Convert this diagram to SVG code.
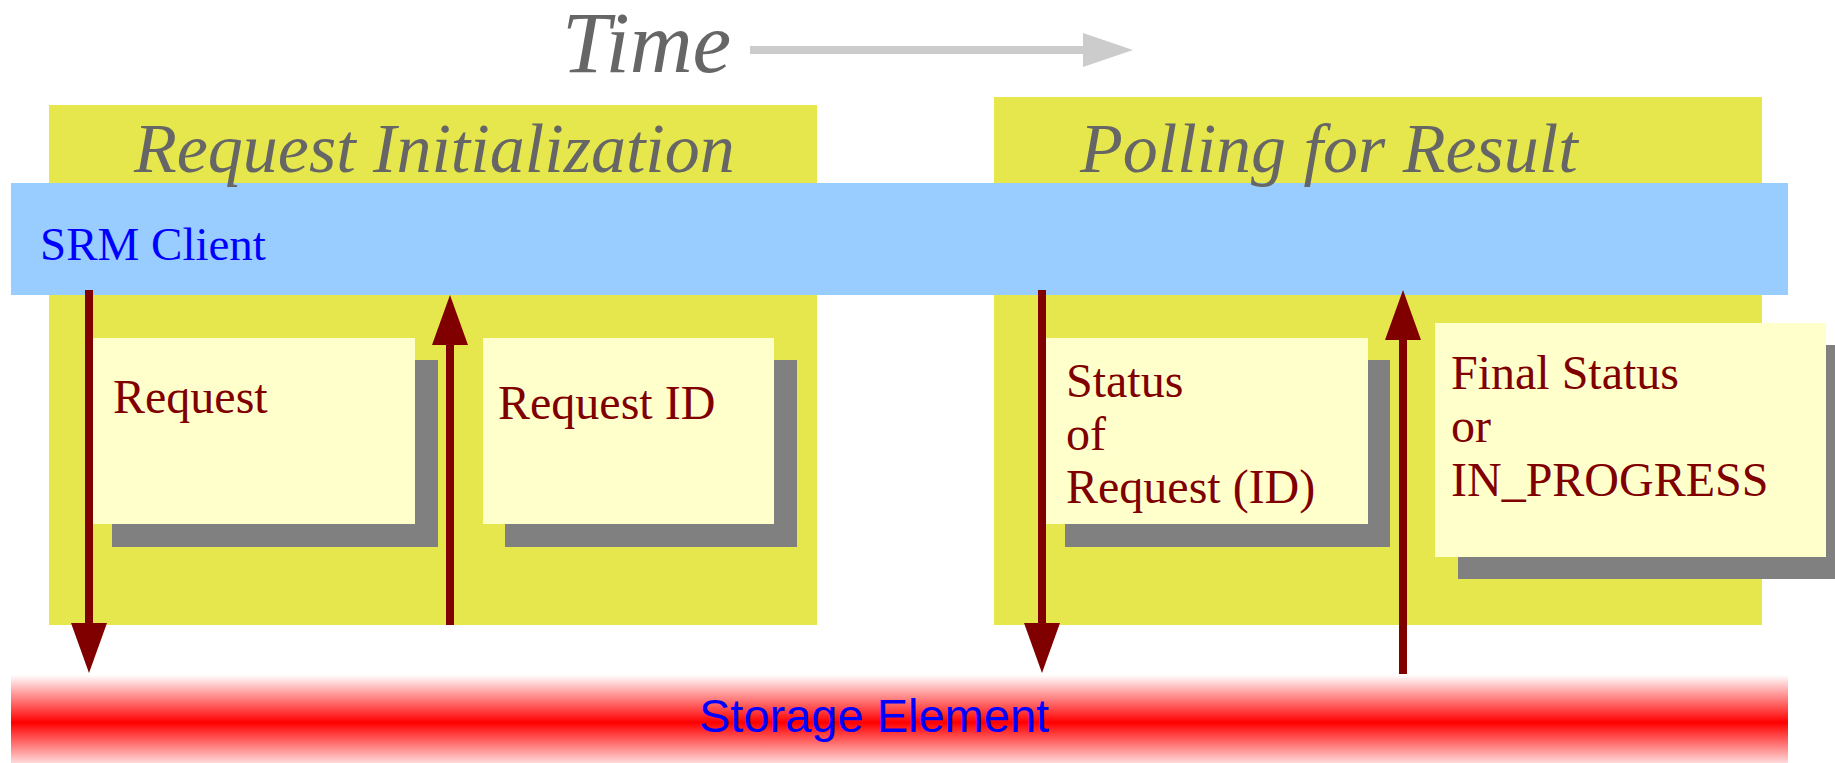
<svg xmlns="http://www.w3.org/2000/svg" width="1835" height="763" viewBox="0 0 1835 763">
  <style>
    .phase { fill: #e6e64d; }
    .phase-title { font-family: "Liberation Serif", serif; font-style: italic; font-size: 70px; fill: #666666; }
    .note { fill: #ffffcc; }
    .shadow { fill: #808080; }
    .note-text { font-family: "Liberation Serif", serif; font-size: 48px; fill: #800000; }
    .msg { stroke: #800000; stroke-width: 8; fill: none; marker-end: url(#head); }
    .lane-label { fill: #0000ff; font-size: 47px; }
  </style>
  <defs>
    <marker id="head" markerUnits="userSpaceOnUse" viewBox="0 0 50 36" markerWidth="50" markerHeight="36" refX="0" refY="18" orient="auto">
      <path d="M0,0 L50,18 L0,36 Z" fill="#800000"/>
    </marker>
    <marker id="timeHead" markerUnits="userSpaceOnUse" viewBox="0 0 50 34" markerWidth="50" markerHeight="34" refX="0" refY="17" orient="auto">
      <path d="M0,0 L50,17 L0,34 Z" fill="#cccccc"/>
    </marker>
    <linearGradient id="storageFade" x1="0" y1="0" x2="0" y2="1">
      <stop offset="0" stop-color="#ffffff"/>
      <stop offset="0.5" stop-color="#ff0000"/>
      <stop offset="1" stop-color="#ffffff"/>
    </linearGradient>
  </defs>

  <!-- time axis -->
  <g id="time-axis">
    <text x="562" y="72" font-family="Liberation Serif, serif" font-style="italic" font-size="87" fill="#666666">Time</text>
    <line x1="750" y1="50" x2="1083" y2="50" stroke="#cccccc" stroke-width="8" marker-end="url(#timeHead)"/>
  </g>

  <!-- phase panels -->
  <g id="phase-init">
    <rect class="phase" x="49" y="105" width="768" height="520"/>
  </g>
  <g id="phase-poll">
    <rect class="phase" x="994" y="97" width="768" height="528"/>
  </g>

  <!-- client lifeline -->
  <g id="srm-client">
    <rect x="11" y="183" width="1777" height="112" fill="#99ccff"/>
    <text class="lane-label" x="40" y="260" font-family="Liberation Serif, serif">SRM Client</text>
  </g>

  <g id="phase-titles">
    <text class="phase-title" x="134" y="172">Request Initialization</text>
    <text class="phase-title" x="1080" y="172">Polling for Result</text>
  </g>

  <!-- storage element lifeline -->
  <g id="storage-element">
    <rect x="11" y="675" width="1777" height="95" fill="url(#storageFade)"/>
    <text class="lane-label" x="699" y="732" font-family="Liberation Sans, sans-serif">Storage Element</text>
  </g>

  <!-- messages -->
  <g id="connectors">
    <line class="msg" x1="89" y1="290" x2="89" y2="623"/>
    <line class="msg" x1="450" y1="625" x2="450" y2="345"/>
    <line class="msg" x1="1042" y1="290" x2="1042" y2="623"/>
    <line class="msg" x1="1403" y1="674" x2="1403" y2="340"/>
  </g>

  <!-- message notes -->
  <g id="note-request">
    <rect class="shadow" x="112" y="360" width="326" height="187"/>
    <rect class="note" x="93" y="338" width="322" height="186"/>
    <text class="note-text" x="113" y="413">Request</text>
  </g>
  <g id="note-request-id">
    <rect class="shadow" x="505" y="360" width="292" height="187"/>
    <rect class="note" x="483" y="338" width="291" height="186"/>
    <text class="note-text" x="498" y="419">Request ID</text>
  </g>
  <g id="note-status">
    <rect class="shadow" x="1065" y="360" width="325" height="187"/>
    <rect class="note" x="1046" y="338" width="322" height="186"/>
    <text class="note-text" x="1066" y="397">Status</text>
    <text class="note-text" x="1066" y="450">of</text>
    <text class="note-text" x="1066" y="503">Request (ID)</text>
  </g>
  <g id="note-final">
    <rect class="shadow" x="1458" y="345" width="377" height="234"/>
    <rect class="note" x="1435" y="323" width="391" height="234"/>
    <text class="note-text" x="1451" y="389">Final Status</text>
    <text class="note-text" x="1451" y="442">or</text>
    <text class="note-text" x="1451" y="496">IN_PROGRESS</text>
  </g>
</svg>
